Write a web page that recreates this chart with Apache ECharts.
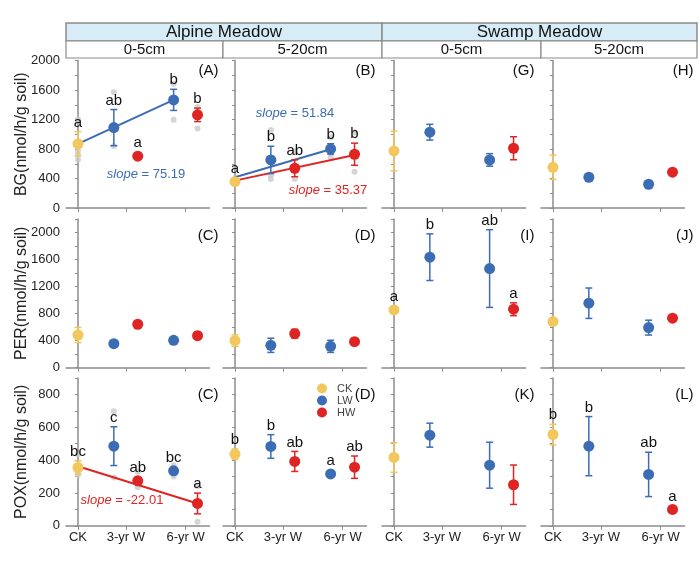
<!DOCTYPE html>
<html>
<head>
<meta charset="utf-8">
<script src="https://cdn.jsdelivr.net/npm/echarts@6/dist/echarts.min.js"></script>
<style>
  html, body { margin: 0; padding: 0; background: #fff; }
  #chart { width: 700px; height: 577px; }
</style>
</head>
<body>
<div id="chart"></div>
<script>
// x positions of the five groups (CK, LW 3-yr, HW 3-yr, LW 6-yr, HW 6-yr)
const groupX = [0, 3, 5, 8, 10];
const groupKey = ['CK', 'LW', 'HW', 'LW', 'HW'];
const tickValues = [0, 4, 9];
const tickLabels = ['CK', '3-yr W', '6-yr W'];
const habitats = ['Alpine Meadow', 'Swamp Meadow'];
const depths = ['0-5cm', '5-20cm', '0-5cm', '5-20cm'];
const enzymes = ['BG(nmol/h/g soil)', 'PER(nmol/h/g soil)', 'POX(nmol/h/g soil)'];
const panelTags = [['(A)', '(B)', '(G)', '(H)'], ['(C)', '(D)', '(I)', '(J)'], ['(C)', '(D)', '(K)', '(L)']];

// BG
const meanA = [870, 1090, 702, 1466, 1263];
const seA = [165, 245, 0, 143, 91];
const sigA = ['a', 'ab', 'a', 'b', 'b'];
const repsA = [[1200, 1180, 775, 725, 655], [1570, 840], [], [1684, 1195], [1368, 1077]];
const fitA = [[0, 870], [8, 1466]];

const meanB = [357, 652, 539, 801, 729];
const seB = [30, 185, 115, 70, 150];
const sigB = ['a', 'b', 'ab', 'b', 'b'];
const repsB = [[400, 335], [1059, 448, 394], [765, 394], [959, 740, 688], [1027, 493]];
const fitBLW = [[0, 417], [8, 797]];
const fitBHW = [[0, 371], [10, 720]];

const meanG = [774, 1028, null, 652, 810];
const seG = [270, 107, 0, 85, 156];
const meanH = [552, 417, null, 322, 485];
const seH = [165, 45, 0, 20, 25];

// PER
const meanC = [484, 356, 643, 405, 474];
const seC = [112, 25, 30, 30, 55];
const meanD = [400, 331, 504, 316, 385];
const seD = [85, 105, 65, 90, 50];
const meanI = [855, 1635, null, 1467, 865];
const seI = [30, 345, 0, 575, 95];
const sigI = ['a', 'b', '', 'ab', 'a'];
const meanJ = [682, 954, null, 593, 732];
const seJ = [30, 225, 0, 110, 30];

// POX
const meanC2 = [355, 485, 274, 335, 136];
const seC2 = [40, 118, 20, 20, 63];
const sigC2 = ['bc', 'c', 'ab', 'bc', 'a'];
const repsC2 = [[436, 329, 309], [698, 294], [329, 234], [369, 300], [241, 24]];
const fitC2 = [[0, 363], [10, 136]];
const meanD2 = [436, 483, 392, 316, 357];
const seD2 = [32, 72, 61, 10, 68];
const sigD2 = ['b', 'b', 'ab', 'a', 'ab'];
const meanK = [416, 552, null, 369, 250];
const seK = [90, 73, 0, 140, 120];
const meanL = [556, 485, null, 313, 100];
const seL = [62, 180, 0, 135, 15];
const sigL = ['b', 'b', '', 'ab', 'a'];

const colors = { CK: '#F1C75E', LW: '#3C6DB4', HW: '#DF2424' };
const repColor = '#cacaca';
const axisGray = '#8c8c8c';
const FONT = '"Liberation Sans", Arial, sans-serif';

// layout
const colLeft = [66, 223, 382, 541];
const panelW = 143.5;
const rowTop = [60.5, 219, 378];
const rowH = [147.5, 148.7, 147.8];
const yMax = [2000, 2200, 900];
const yStep = [200, 200, 100];
const labelStep = [400, 400, 200];
const tagDy = [10.5, 17, 17];

const panels = [
  [
    { mean: meanA, se: seA, sig: sigA, reps: repsA, fits: [{ d: fitA, g: 'LW' }],
      slopes: [{ t: '75.19', g: 'LW', at: [80, 113.5] }] },
    { mean: meanB, se: seB, sig: sigB, reps: repsB, fits: [{ d: fitBLW, g: 'LW' }, { d: fitBHW, g: 'HW' }],
      slopes: [{ t: '51.84', g: 'LW', at: [72, 53] }, { t: '35.37', g: 'HW', at: [105, 130] }] },
    { mean: meanG, se: seG },
    { mean: meanH, se: seH }
  ],
  [
    { mean: meanC, se: seC },
    { mean: meanD, se: seD },
    { mean: meanI, se: seI, sig: sigI },
    { mean: meanJ, se: seJ }
  ],
  [
    { mean: meanC2, se: seC2, sig: sigC2, reps: repsC2, fits: [{ d: fitC2, g: 'HW' }],
      slopes: [{ t: '-22.01', g: 'HW', at: [56, 122.7] }] },
    { mean: meanD2, se: seD2, sig: sigD2 },
    { mean: meanK, se: seK },
    { mean: meanL, se: seL, sig: sigL }
  ]
];

const grids = [], xAxes = [], yAxes = [], series = [], graphics = [];

function errRender(p) {
  return function (params, api) {
    const i = api.value(2);
    const x = groupX[i], m = p.mean[i], e = p.se[i];
    const col = colors[groupKey[i]];
    const top = api.coord([x, m + e]);
    const bot = api.coord([x, m - e]);
    const kids = [];
    const st = { stroke: col, lineWidth: 1.5 };
    if (e > 0) {
      kids.push({ type: 'line', shape: { x1: top[0], y1: top[1], x2: bot[0], y2: bot[1] }, style: st });
      kids.push({ type: 'line', shape: { x1: top[0] - 3.5, y1: top[1], x2: top[0] + 3.5, y2: top[1] }, style: st });
      kids.push({ type: 'line', shape: { x1: bot[0] - 3.5, y1: bot[1], x2: bot[0] + 3.5, y2: bot[1] }, style: st });
    }
    if (p.sig && p.sig[i]) {
      const mp = api.coord([x, m]);
      const y = Math.min(top[1] - 9, mp[1] - 13);
      kids.push({
        type: 'text', x: top[0], y: y,
        style: { text: p.sig[i], fill: '#111', font: '15px ' + FONT,
          align: 'center', verticalAlign: 'middle', textAlign: 'center', textVerticalAlign: 'middle' }
      });
    }
    return { type: 'group', children: kids };
  };
}

for (let r = 0; r < 3; r++) {
  for (let c = 0; c < 4; c++) {
    const gi = r * 4 + c;
    const p = panels[r][c];
    grids.push({ left: colLeft[c], top: rowTop[r], width: panelW, height: rowH[r] });
    xAxes.push({
      gridIndex: gi, type: 'value', min: -1, max: 11,
      axisLine: { show: true, lineStyle: { color: axisGray, width: 1.5 } },
      axisTick: { show: true, customValues: tickValues, length: 4, lineStyle: { color: axisGray } },
      axisLabel: { show: r === 2, customValues: tickValues,
        formatter: v => tickLabels[tickValues.indexOf(v)] || '',
        fontSize: 13, color: '#222', fontFamily: FONT, margin: 5 },
      splitLine: { show: false }
    });
    yAxes.push({
      gridIndex: gi, type: 'value', min: 0, max: yMax[r], interval: yStep[r],
      axisLine: { show: true, lineStyle: { color: axisGray, width: 1.5 } },
      axisTick: { show: true, length: 3, lineStyle: { color: axisGray } },
      axisLabel: { show: c === 0, formatter: v => (v % labelStep[r] === 0 ? String(v) : ''),
        fontSize: 13, color: '#222', fontFamily: FONT, margin: 6 },
      splitLine: { show: false },
      name: c === 0 ? enzymes[r] : '',
      nameLocation: 'middle', nameGap: 36, nameMoveOverlap: false,
      nameTextStyle: { fontSize: 16, color: '#222', fontFamily: FONT }
    });

    if (p.reps) {
      const pts = [];
      p.reps.forEach((arr, i) => arr.forEach(v => pts.push([groupX[i], v])));
      series.push({ type: 'scatter', xAxisIndex: gi, yAxisIndex: gi, data: pts, symbolSize: 6,
        itemStyle: { color: repColor }, z: 1, silent: true });
    }
    (p.fits || []).forEach(f => {
      series.push({ type: 'line', xAxisIndex: gi, yAxisIndex: gi, data: f.d, showSymbol: false,
        lineStyle: { color: colors[f.g], width: 2 }, z: 2, silent: true });
    });
    const errData = [];
    p.mean.forEach((m, i) => { if (m !== null) errData.push([groupX[i], m, i]); });
    series.push({ type: 'custom', xAxisIndex: gi, yAxisIndex: gi, data: errData,
      renderItem: errRender(p), z: 3, silent: true });
    ['CK', 'LW', 'HW'].forEach(g => {
      const d = [];
      p.mean.forEach((m, i) => { if (m !== null && groupKey[i] === g) d.push([groupX[i], m]); });
      series.push({ name: g, type: 'scatter', xAxisIndex: gi, yAxisIndex: gi, data: d, symbolSize: 11,
        itemStyle: { color: colors[g], opacity: 1 }, z: 4 });
    });

    // panel tag
    graphics.push({ type: 'text', x: colLeft[c] + panelW + 9, y: rowTop[r] + tagDy[r],
      style: { text: panelTags[r][c], font: '15px ' + FONT, fill: '#111',
        align: 'right', verticalAlign: 'middle', textAlign: 'right', textVerticalAlign: 'middle' } });
    (p.slopes || []).forEach(s => {
      graphics.push({ type: 'text', x: colLeft[c] + s.at[0], y: rowTop[r] + s.at[1],
        style: { text: '{i|slope} = ' + s.t, font: '13px ' + FONT, fill: colors[s.g],
          rich: { i: { fontStyle: 'italic', fontSize: 13, fontFamily: FONT, fill: colors[s.g] } },
          align: 'center', verticalAlign: 'middle', textAlign: 'center', textVerticalAlign: 'middle' } });
    });
  }
}

// headers
const hdrX = [66, 382, 697];
habitats.forEach((h, k) => {
  graphics.push({ type: 'rect', shape: { x: hdrX[k], y: 23, width: hdrX[k + 1] - hdrX[k], height: 18 },
    style: { fill: '#d7ecf6', stroke: axisGray, lineWidth: 1.5 } });
  graphics.push({ type: 'text', x: (hdrX[k] + hdrX[k + 1]) / 2, y: 32.5,
    style: { text: h, font: '17px ' + FONT, fill: '#111',
      align: 'center', verticalAlign: 'middle', textAlign: 'center', textVerticalAlign: 'middle' } });
});
const subX = [66, 223, 382, 541, 697];
depths.forEach((d, k) => {
  graphics.push({ type: 'rect', shape: { x: subX[k], y: 41, width: subX[k + 1] - subX[k], height: 17 },
    style: { fill: '#fff', stroke: axisGray, lineWidth: 1.2 } });
  graphics.push({ type: 'text', x: (subX[k] + subX[k + 1]) / 2, y: 50,
    style: { text: d, font: '15px ' + FONT, fill: '#111',
      align: 'center', verticalAlign: 'middle', textAlign: 'center', textVerticalAlign: 'middle' } });
});

const chart = echarts.init(document.getElementById('chart'), null, { renderer: 'canvas' });
chart.setOption({
  animation: false,
  backgroundColor: '#fff',
  grid: grids,
  xAxis: xAxes,
  yAxis: yAxes,
  series: series,
  graphic: graphics,
  legend: {
    data: ['CK', 'LW', 'HW'], orient: 'vertical', left: 317, top: 383, padding: 0,
    icon: 'circle', itemWidth: 10, itemHeight: 10, itemGap: 1,
    textStyle: { fontSize: 11, color: '#444', fontFamily: FONT, padding: [0, 0, 0, 5] }
  }
});
</script>
</body>
</html>
